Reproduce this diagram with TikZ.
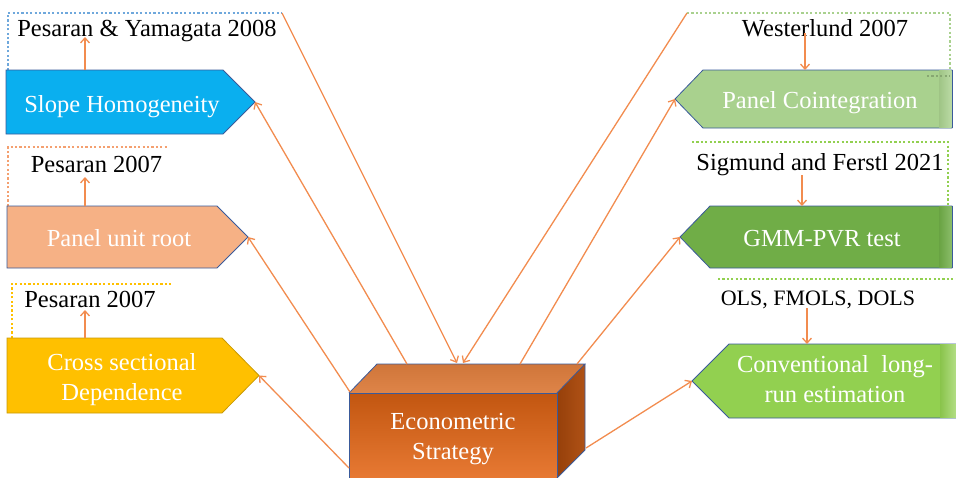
\documentclass[tikz,border=0pt]{standalone}
\usepackage{fontspec}
\setmainfont{Liberation Serif}
\usetikzlibrary{arrows.meta}
\definecolor{lineor}{HTML}{F28C4F}
\definecolor{bordblue}{HTML}{3A5A9A}
\definecolor{shblue}{HTML}{0AAFEF}
\definecolor{peach}{HTML}{F6B185}
\definecolor{gold}{HTML}{FFC000}
\definecolor{golddark}{HTML}{C99A06}
\definecolor{lgreen}{HTML}{A9D18E}
\definecolor{mgreen}{HTML}{70AD47}
\definecolor{bgreen}{HTML}{92D050}
\definecolor{frblue}{HTML}{6FA8DC}
\definecolor{frorange}{HTML}{F4A070}
\definecolor{frgold}{HTML}{FFC000}
\definecolor{frlgreen}{HTML}{A9D18E}
\definecolor{frgreen}{HTML}{92D050}
\definecolor{cubefronttop}{RGB}{194,86,16}
\definecolor{cubefrontbot}{RGB}{232,122,52}
\definecolor{cubetopA}{RGB}{208,118,58}
\definecolor{cubetopB}{RGB}{222,132,72}
\definecolor{cubesideA}{RGB}{150,64,10}
\definecolor{cubesideB}{RGB}{176,82,22}
\begin{document}
\begin{tikzpicture}[x=1pt,y=-1pt,
  conn/.style={draw=lineor, line width=1.3pt, -{Straight Barb[length=5pt,width=9pt]}},
  boxlbl/.style={text=white, font=\fontsize{24.5}{30}\selectfont, align=center, inner sep=0pt},
  reflbl/.style={text=black, font=\fontsize{24.5}{30}\selectfont, inner sep=0pt, anchor=base},
  boxline/.style={draw=bordblue, line width=0.8pt},
  frameline/.style={line width=1.1pt, dash pattern=on 2.2pt off 2.2pt}]
\useasboundingbox (0,0) rectangle (956,477);

% ---- dotted frames ----
\draw[frameline, draw=frblue] (8,70) -- (8,13) -- (282,13);
\coordinate (fSH) at (282,13);
\draw[frameline, draw=frorange] (8,206) -- (8,147) -- (168,147);
\draw[frameline, draw=frgold] (12,338) -- (12,284) -- (172,284);
\draw[frameline, draw=frlgreen] (687,13) -- (950,13) -- (950,70);
\coordinate (fPC) at (687,13);
\draw[frameline, draw=frgreen] (692,142) -- (948,142) -- (948,206);
\draw[frameline, draw=frgreen] (718,279) -- (956,279);

% ---- left boxes ----
\filldraw[boxline, fill=shblue] (6,70) -- (223,70) -- (255,102) -- (223,134) -- (6,134) -- cycle;
\coordinate (SHtip) at (255,102);
\coordinate (SHtop) at (85,70);
\node[boxlbl, anchor=base] (SH) at (122,112) {Slope Homogeneity};

\filldraw[boxline, fill=peach] (7,206) -- (217,206) -- (248,237) -- (217,268) -- (7,268) -- cycle;
\coordinate (PUtip) at (248,237);
\coordinate (PUtop) at (85,206);
\node[boxlbl, anchor=base] (PU) at (119,246) {Panel unit root};

\filldraw[draw=golddark, line width=0.8pt, fill=gold] (7,338) -- (222,338) -- (259,375.5) -- (222,413) -- (7,413) -- cycle;
\coordinate (CStip) at (259,375.5);
\coordinate (CStop) at (85,338);
\node[boxlbl] (CS) at (122,379.3) {Cross sectional\\Dependence};

% ---- right boxes ----
\filldraw[boxline, fill=lgreen] (952,70) -- (703,70) -- (675,99) -- (703,128) -- (952,128) -- cycle;
\shade[left color=lgreen!94!black, right color=lgreen!80!white] (939,70.5) rectangle (951.5,127.5);
\draw[boxline] (952,70) -- (952,128);
\draw[frameline, draw=lgreen!80!black] (927,76) -- (950,76);
\coordinate (PCtip) at (675,99);
\coordinate (PCtop) at (805,70);
\node[boxlbl, anchor=base] (PC) at (820,108) {Panel Cointegration};

\filldraw[boxline, fill=mgreen] (952,206) -- (710,206) -- (680,237) -- (710,268) -- (952,268) -- cycle;
\shade[left color=mgreen!94!black, right color=mgreen!82!white] (939,206.5) rectangle (951.5,267.5);
\draw[boxline] (952,206) -- (952,268);
\coordinate (GMtip) at (680,237);
\coordinate (GMtop) at (802,206);
\node[boxlbl, anchor=base] (GM) at (822,246) {GMM-PVR test};

\filldraw[boxline, fill=bgreen] (958,344) -- (729,344) -- (692,381) -- (729,418) -- (958,418) -- cycle;
\shade[left color=bgreen!94!black, right color=bgreen!70!white] (940,344.5) rectangle (956,417.5);
\coordinate (CVtip) at (692,381);
\coordinate (CVtop) at (807,344);
\node[boxlbl] (CV) at (835,379.2) {Conventional\ \ long-\\run estimation};

% ---- reference texts ----
\node[reflbl] (rSH) at (147,36) {Pesaran \& Yamagata 2008};
\coordinate (rSHa) at (85,37);
\node[reflbl] (rPU) at (96.5,172) {Pesaran 2007};
\coordinate (rPUa) at (85,177);
\node[reflbl] (rCS) at (90,307) {Pesaran 2007};
\coordinate (rCSa) at (85,310);
\node[reflbl] (rPC) at (825,36) {Westerlund 2007};
\coordinate (rPCa) at (805,33);
\node[reflbl] (rGM) at (820,170) {Sigmund and Ferstl 2021};
\coordinate (rGMa) at (802,175);
\node[reflbl, font=\fontsize{22}{26}\selectfont] (rCV) at (818,305) {OLS, FMOLS, DOLS};
\coordinate (rCVa) at (807,308);

% ---- cube ----
\shade[top color=cubefronttop, bottom color=cubefrontbot]
  (349,393) rectangle (557,480);
\shade[top color=cubetopA, bottom color=cubetopB]
  (349,393) -- (377,364) -- (585,364) -- (557,393) -- cycle;
\shade[left color=cubesideA, right color=cubesideB]
  (557,393) -- (585,364) -- (585,450) -- (557,478) -- cycle;
\draw[boxline] (349,480) -- (349,393) -- (557,393) -- (557,480);
\draw[boxline] (349,393) -- (377,364) -- (585,364) -- (557,393);
\draw[boxline] (585,364) -- (585,450) -- (557,478);
\node[boxlbl] (ES) at (453,439.3) {Econometric\\Strategy};
\coordinate (cSH) at (407,364);
\coordinate (cPU) at (350,392);
\coordinate (cCS) at (349,468);
\coordinate (cPC) at (520,364);
\coordinate (cGM) at (577,364);
\coordinate (cCV) at (586,448);
\coordinate (cIn1) at (457,363);
\coordinate (cIn2) at (463,363);

% ---- connectors ----
\draw[conn] (SHtop) -- (rSHa);
\draw[conn] (PUtop) -- (rPUa);
\draw[conn] (CStop) -- (rCSa);
\draw[conn] (rPCa) -- (PCtop);
\draw[conn] (rGMa) -- (GMtop);
\draw[conn] (rCVa) -- (CVtop);
\draw[conn] (cSH) -- (SHtip);
\draw[conn] (cPU) -- (PUtip);
\draw[conn] (cCS) -- (CStip);
\draw[conn] (cPC) -- (PCtip);
\draw[conn] (cGM) -- (GMtip);
\draw[conn] (cCV) -- (CVtip);
\draw[conn] (fSH) -- (cIn1);
\draw[conn] (fPC) -- (cIn2);
\end{tikzpicture}
\end{document}
